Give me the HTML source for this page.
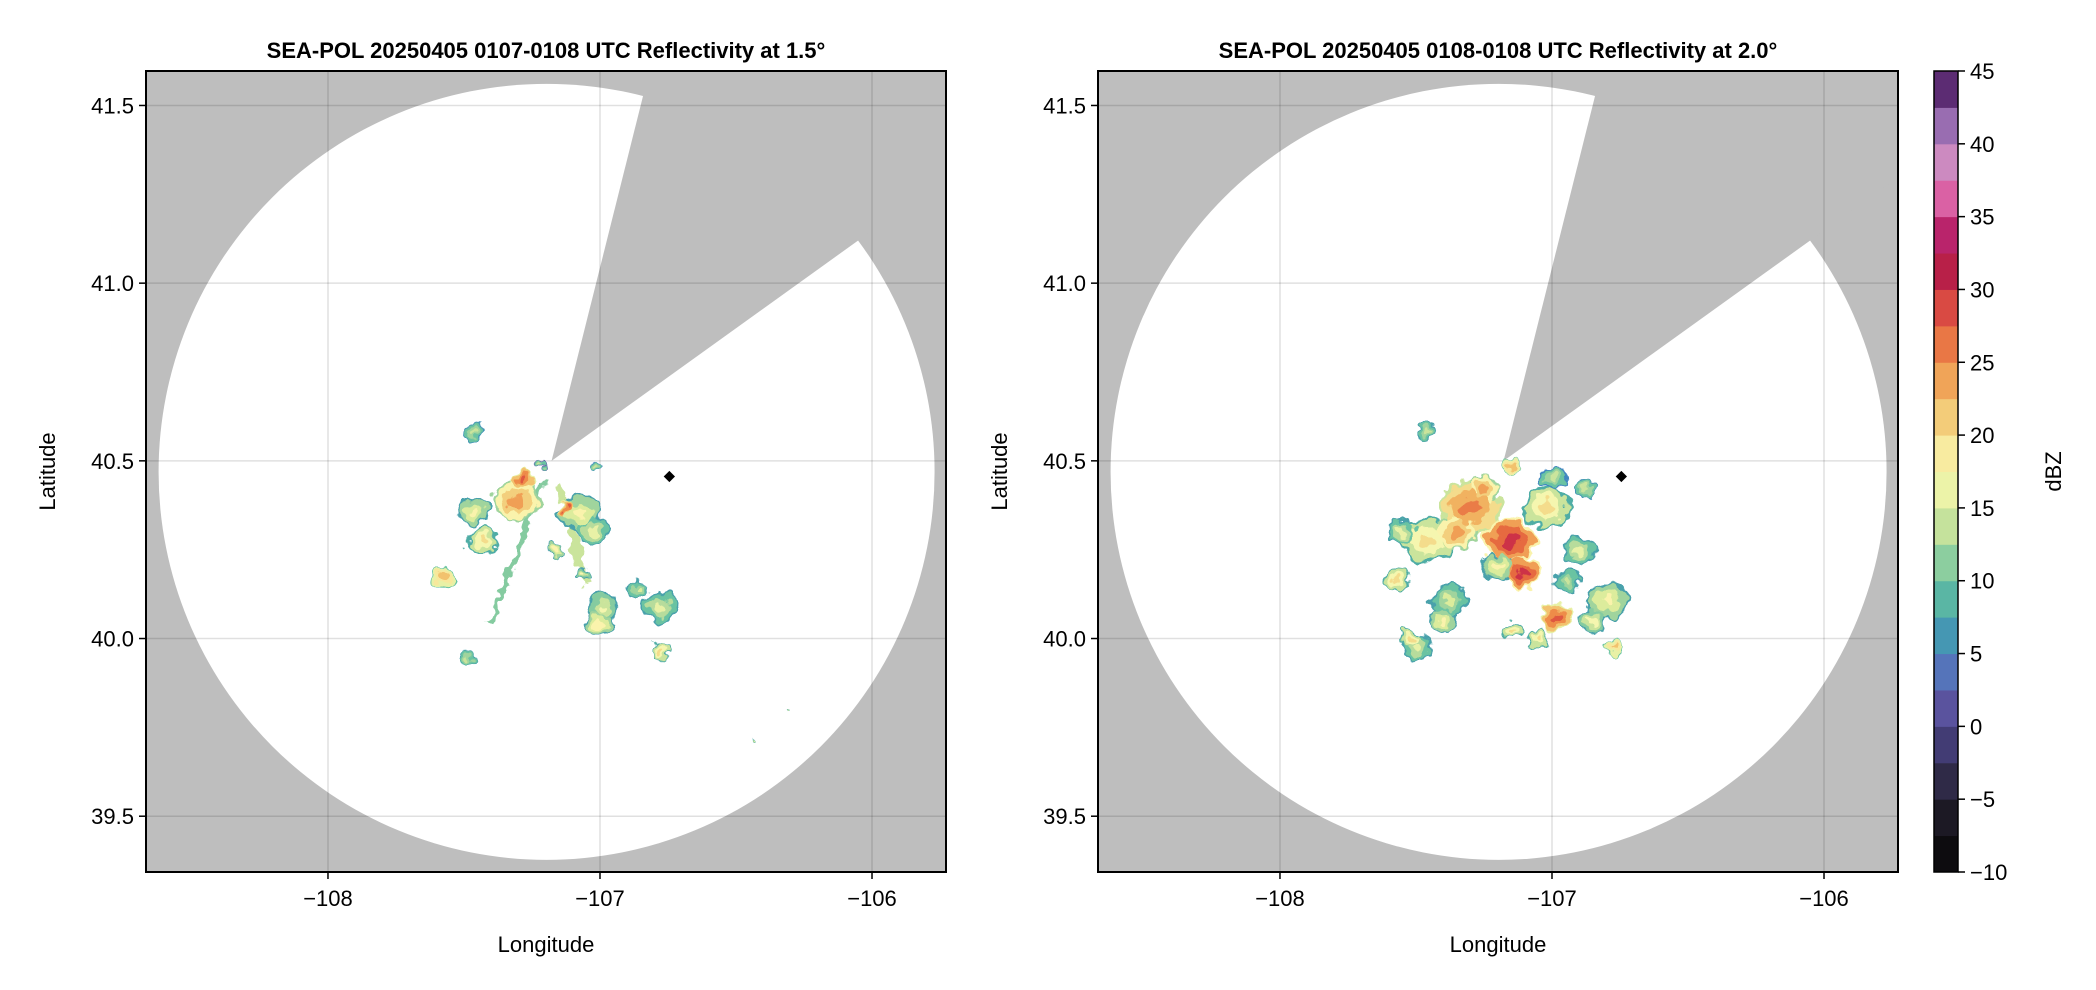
<!DOCTYPE html>
<html><head><meta charset="utf-8"><style>
body{margin:0;background:#fff;}
svg{display:block;font-family:"Liberation Sans",sans-serif;}
</style></head><body>
<svg id="fig" width="2096" height="990" viewBox="0 0 2096 990" xmlns="http://www.w3.org/2000/svg">
<defs>
<filter id="rough" x="-20%" y="-20%" width="140%" height="140%">
<feTurbulence type="fractalNoise" baseFrequency="0.09" numOctaves="2" seed="3" result="n"/>
<feDisplacementMap in="SourceGraphic" in2="n" scale="16" xChannelSelector="R" yChannelSelector="G"/>
</filter>
</defs>
</svg>
<script>
// ---- data ----
const xTicks=[-108,-107,-106];
const yTicks=[39.5,40.0,40.5,41.0,41.5];
const cbTicks=[-10,-5,0,5,10,15,20,25,30,35,40,45];
const radarLon=-107.178, radarLat=40.5;
const markerLon=-106.745, markerLat=40.456;
// left panel echoes: lon, lat, radius(deg), dBZ
const leftLon=[-107.467,-107.305,-107.467,-107.43,-107.073,-107.026,-107.577,-106.989,-106.78,-106.78,-107.489,-107.062,-107.158,-107.22,-107.011,-106.44,-106.31,-107.28,-107.12,-107.0,-106.86];
const leftLat=[40.586,40.389,40.360,40.276,40.352,40.304,40.172,40.087,40.087,39.966,39.946,40.183,40.248,40.493,40.482,39.71,39.80,40.45,40.37,40.04,40.14];
const leftR=[0.04,0.09,0.06,0.06,0.08,0.06,0.045,0.06,0.07,0.035,0.03,0.03,0.03,0.02,0.02,0.008,0.008,0.04,0.03,0.05,0.04];
const leftDbz=[6,24,18,20,18,16,22,17,16,20,13,17,18,2,5,17,17,28,28,18,15];
// right panel echoes
const rightLon=[-107.459,-107.301,-107.154,-107.106,-107.459,-107.018,-106.996,-107.57,-107.375,-106.981,-106.797,-107.496,-106.775,-107.143,-106.945,-107.154,-107.25,-107.35,-107.55,-107.2,-107.4,-106.9,-106.85,-107.05,-106.88,-107.52];
const rightLat=[40.586,40.369,40.276,40.183,40.276,40.369,40.453,40.163,40.107,40.059,40.107,39.974,39.974,40.022,40.163,40.482,40.42,40.3,40.3,40.2,40.05,40.25,40.05,40.0,40.42,40.0];
const rightR=[0.04,0.12,0.1,0.07,0.1,0.09,0.05,0.05,0.07,0.06,0.08,0.06,0.035,0.04,0.05,0.03,0.06,0.08,0.05,0.06,0.05,0.06,0.05,0.04,0.04,0.04];
const rightDbz=[10,26,30,30,20,20,5,20,15,28,18,16,22,20,12,22,24,24,16,18,18,16,17,20,6,20];

const NS="http://www.w3.org/2000/svg";
const svg=document.getElementById('fig');
function mk(tag,attrs,parent){const e=document.createElementNS(NS,tag);for(const k in attrs)e.setAttribute(k,attrs[k]);(parent||svg).appendChild(e);return e;}
const stops=[[-10,'#050505'],[-5,'#23202e'],[-2.5,'#3a3460'],[0,'#4a4488'],[2.5,'#6a62b4'],[5,'#3f86c0'],[7.5,'#4aa8a6'],[10,'#6ac3a2'],[12.5,'#aed89c'],[15,'#dcec9c'],[17.5,'#fbf9b4'],[20,'#f4dc8c'],[22.5,'#f2bb66'],[25,'#ee8c4a'],[27.5,'#e4613f'],[30,'#cd3246'],[32.5,'#a20e4a'],[35,'#cf3a8c'],[37.5,'#e488bc'],[40,'#b48cc4'],[42.5,'#7e4e9e'],[45,'#3a0a48']];
function hex(c){return [1,3,5].map(i=>parseInt(c.substr(i,2),16));}
function cmap(v){v=Math.max(-10,Math.min(45,v));for(let i=0;i<stops.length-1;i++){const a=stops[i],b=stops[i+1];if(v<=b[0]){const t=(v-a[0])/(b[0]-a[0]);const ca=hex(a[1]),cb=hex(b[1]);return 'rgb('+ca.map((x,j)=>Math.round(x+(cb[j]-x)*t)).join(',')+')';}}return stops[stops.length-1][1];}

const X0=-108.669,X1=-105.728,Y0=39.343,Y1=41.597;
const panels=[{x:146,name:'left',title:'SEA-POL 20250405 0107-0108 UTC Reflectivity at 1.5°',lon:leftLon,lat:leftLat,r:leftR,dbz:leftDbz},
              {x:1098,name:'right',title:'SEA-POL 20250405 0108-0108 UTC Reflectivity at 2.0°',lon:rightLon,lat:rightLat,r:rightR,dbz:rightDbz}];
const PT=71,PB=872,PW=800;
panels.forEach((p,pi)=>{
  const sx=v=>p.x+(v-X0)/(X1-X0)*PW;
  const sy=v=>PB-(v-Y0)/(Y1-Y0)*(PB-PT);
  const g=mk('g',{});
  
  
  const cid='clip'+pi;
  const cp=mk('clipPath',{id:cid},g);mk('rect',{x:p.x,y:PT,width:PW,height:PB-PT},cp);
  const bg=mk('rect',{x:p.x,y:PT,width:PW,height:PB-PT,fill:'#bebebe'},g);
  
  
  const cx=sx(radarLon), cy=sy(radarLat);
  const cov=mk('ellipse',{cx:cx-5,cy:cy+11,rx:388,ry:388,fill:'#fff'},g);
  
  
  const a1=[643-551.5,96-461],a2=[857.6-551.5,241-461];
  const wedge=mk('polygon',{points:`${cx},${cy} ${cx+a1[0]*2},${cy+a1[1]*2} ${cx+a2[0]*3},${cy+a2[1]*3}`,fill:'#bebebe','clip-path':`url(#${cid})`},g);
  
  
  xTicks.forEach(t=>{const l=mk('line',{x1:sx(t),x2:sx(t),y1:PT,y2:PB,stroke:'rgba(0,0,0,0.12)','stroke-width':1.5},g);
    });
  yTicks.forEach(t=>{const l=mk('line',{x1:p.x,x2:p.x+PW,y1:sy(t),y2:sy(t),stroke:'rgba(0,0,0,0.12)','stroke-width':1.5},g);
    });
  const outer=mk('g',{'clip-path':`url(#${cid})`},g);
  const eg=mk('g',{filter:'url(#rough)'},outer);
  
  
  if(pi===0){
    const sl=mk('line',{x1:cx-8,y1:cy+20,x2:sx(-107.404),y2:sy(40.042),stroke:cmap(11),'stroke-width':6},eg);
    
    const s2=mk('line',{x1:cx+8,y1:cy+25,x2:sx(-107.05),y2:sy(40.15),stroke:cmap(14),'stroke-width':8},eg);
    
  }
  // outer edges first for all cells, then inner layers, so cells merge
  const layers=[[1,-12,7],[0.88,-6,10],[0.6,-3,12],[0.3,0,14]];
  layers.forEach(L=>{
    for(let i=0;i<p.lon.length;i++){
      const ex=sx(p.lon[i]),ey=sy(p.lat[i]),rp=p.r[i]*272;
      const e=mk('ellipse',{cx:ex,cy:ey,rx:rp*L[0],ry:rp*L[0]*0.85,fill:cmap(Math.max(L[2]<8?Math.min(L[2],p.dbz[i]):L[2],p.dbz[i]+L[1]))},eg);
      
      
    }
  });
  const mkr=mk('rect',{x:sx(markerLon)-4,y:sy(markerLat)-4,width:8,height:8,fill:'#000',transform:`rotate(45 ${sx(markerLon)} ${sy(markerLat)})`},g);
  
  const fr=mk('rect',{x:p.x,y:PT,width:PW,height:PB-PT,fill:'none',stroke:'#000','stroke-width':2},g);
  
  xTicks.forEach(t=>{
    mk('line',{x1:sx(t),x2:sx(t),y1:PB,y2:PB+7,stroke:'#000','stroke-width':1.5},g);
    const tx=mk('text',{x:sx(t),y:PB+34,'font-size':22,'text-anchor':'middle'},g);tx.textContent=(t<0?'\u2212'+(-t):t);
    
  });
  yTicks.forEach(t=>{
    mk('line',{x1:p.x-7,x2:p.x,y1:sy(t),y2:sy(t),stroke:'#000','stroke-width':1.5},g);
    const tx=mk('text',{x:p.x-12,y:sy(t)+8,'font-size':22,'text-anchor':'end'},g);tx.textContent=t.toFixed(1);
    
  });
  const xt=mk('text',{x:p.x+PW/2,y:952,'font-size':22,'text-anchor':'middle'},g);xt.textContent='Longitude';
  
  const yt=mk('text',{x:0,y:0,'font-size':22,'text-anchor':'middle',transform:`translate(${p.x-91},${(PT+PB)/2}) rotate(-90)`},g);yt.textContent='Latitude';
  
  const tt=mk('text',{x:p.x+PW/2,y:58,'font-size':22,'font-weight':'bold','text-anchor':'middle'},g);tt.textContent=p.title;
  
});
const cbg=mk('g',{});


const cbx=1934,cbw=24;
const cy2=v=>PB-(v+10)/55*(PB-PT);
for(let v=-10;v<45;v+=2.5){
  const r=mk('rect',{x:cbx,y:cy2(v+2.5),width:cbw,height:cy2(v)-cy2(v+2.5)+0.5,fill:cmap(v+1.25)},cbg);
  
}
mk('rect',{x:cbx,y:PT,width:cbw,height:PB-PT,fill:'none',stroke:'#000','stroke-width':1.5},cbg);
cbTicks.forEach(t=>{
  mk('line',{x1:cbx+cbw,x2:cbx+cbw+7,y1:cy2(t),y2:cy2(t),stroke:'#000','stroke-width':1.5},cbg);
  const tx=mk('text',{x:cbx+cbw+12,y:cy2(t)+8,'font-size':22},cbg);tx.textContent=(t<0?'\u2212'+(-t):t);
  
});
const cbl=mk('text',{x:0,y:0,'font-size':22,'text-anchor':'middle',transform:`translate(2061,${(PT+PB)/2}) rotate(-90)`},cbg);cbl.textContent='dBZ';

</script>
</body></html>
